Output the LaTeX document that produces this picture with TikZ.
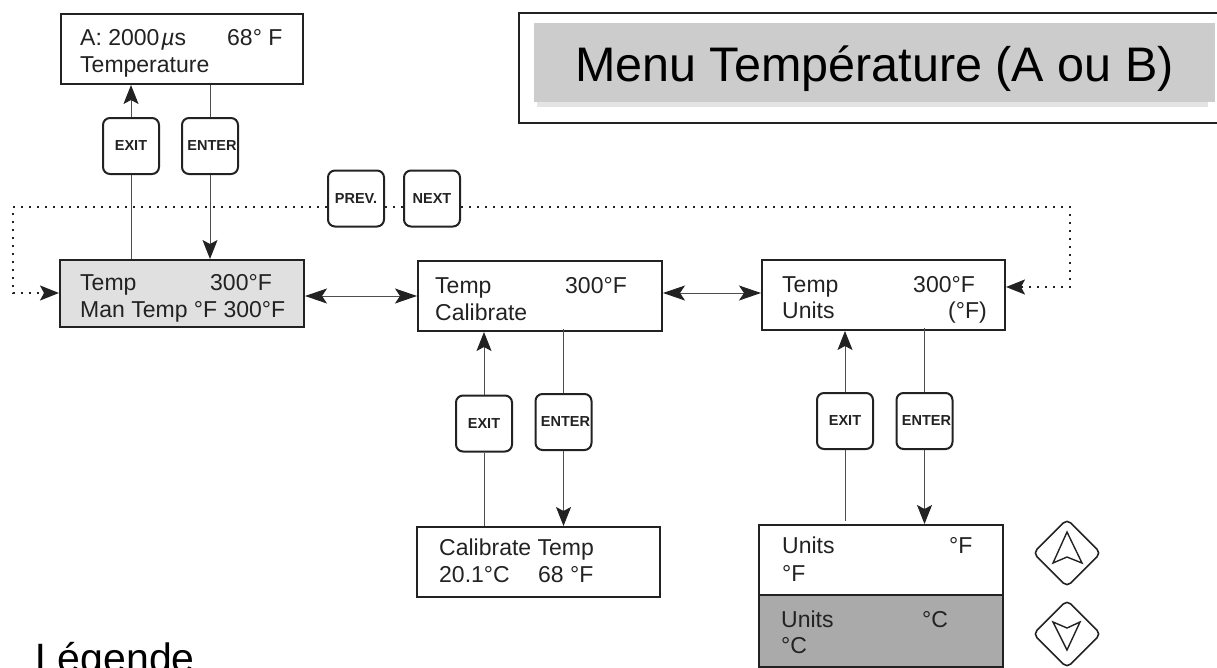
\documentclass[tikz,border=0pt]{standalone}
\usepackage{fontspec}
\setmainfont{Liberation Sans}
\usetikzlibrary{arrows.meta,shapes.geometric}
\definecolor{ink}{HTML}{222222}
\definecolor{lgray}{HTML}{E0E0E0}
\definecolor{mgray}{HTML}{AAAAAA}
\definecolor{tgray}{HTML}{CCCCCC}
\definecolor{sgray}{HTML}{E4E4E4}
\tikzset{
  box/.style={draw=ink, line width=2pt, anchor=north west, inner sep=0pt},
  txt/.style={anchor=base west, inner sep=0pt, font=\fontsize{23}{27}\selectfont, text=ink},
  key/.style={draw=ink, line width=2pt, rounded corners=7pt, minimum width=56pt, minimum height=56pt, inner sep=0pt, fill=white, font=\bfseries\fontsize{14.5}{16}\selectfont, text=ink},
  ln/.style={draw=ink!80, line width=1pt},
  arr/.style={ln, -{Stealth[length=19pt,width=15pt,inset=4pt,color=ink]}},
  dbl/.style={ln, {Stealth[length=22pt,width=15pt,inset=5pt,color=ink]}-{Stealth[length=22pt,width=15pt,inset=5pt,color=ink]}},
  dotl/.style={draw=ink, line width=1.8pt, dash pattern=on 1.8pt off 6.2pt},
  dotarr/.style={dotl, -{Stealth[length=19pt,width=15pt,inset=4pt,color=ink]}},
  dia/.style={diamond, draw=ink, line width=1.6pt, rounded corners=5pt, minimum width=68pt, minimum height=68pt, inner sep=0pt},
  inner/.style={draw=ink, line width=1.4pt, line join=miter}
}
\begin{document}
\begin{tikzpicture}[x=1pt,y=-1pt]
\useasboundingbox (0,0) rectangle (1217,667);
% title
\node[draw=ink, line width=1.6pt, anchor=north west, minimum width=720pt, minimum height=110pt, inner sep=0pt] (frame) at (518,12) {};
\fill[sgray] (537,102) rectangle (1208,107);
\node[fill=tgray, anchor=north west, minimum width=681pt, minimum height=79pt, inner sep=0pt] (tbar) at (534,23) {};
\node[anchor=base west, inner sep=0pt, font=\fontsize{48.5}{52}\selectfont] (title) at (575,81) {Menu Température (A ou B)};
% boxes
\node[box, minimum width=242pt, minimum height=70pt] (top) at (60,13) {};
\node[box, fill=lgray, minimum width=244pt, minimum height=67pt] (mt) at (59,259) {};
\node[box, minimum width=244pt, minimum height=70pt] (cal) at (417,260) {};
\node[box, minimum width=243pt, minimum height=70pt] (units) at (761,259) {};
\node[box, minimum width=243pt, minimum height=70pt] (ctemp) at (416,526) {};
\node[box, minimum width=244pt, minimum height=70pt] (uf) at (758,524) {};
\node[box, fill=mgray, minimum width=244pt, minimum height=72pt] (uc) at (758,594) {};
% texts
\node[txt] (t1a) at (80,45) {A: 2000\kern2pt{\itshape µ}s};
\node[txt] (t1b) at (227,45) {68° F};
\node[txt] (t1c) at (80,72) {Temperature};
\node[txt] (t2a) at (80,290) {Temp};
\node[txt] (t2b) at (210,290) {300°F};
\node[txt] (t2c) at (80,317) {Man Temp °F 300°F};
\node[txt] (t3a) at (435,293) {Temp};
\node[txt] (t3b) at (565,293) {300°F};
\node[txt] (t3c) at (435,320) {Calibrate};
\node[txt] (t4a) at (782,292) {Temp};
\node[txt] (t4b) at (913,292) {300°F};
\node[txt] (t4c) at (782,318) {Units};
\node[txt] (t4d) at (948,318) {(°F)};
\node[txt] (t5a) at (439,555) {Calibrate Temp};
\node[txt] (t5b) at (439,582) {20.1°C};
\node[txt] (t5c) at (538,582) {68 °F};
\node[txt] (t6a) at (782,553) {Units};
\node[txt] (t6b) at (949,553) {°F};
\node[txt] (t6c) at (782,581) {°F};
\node[txt] (t7a) at (781,627) {Units};
\node[txt] (t7b) at (922,627) {°C};
\node[txt] (t7c) at (781,653) {°C};
\node[anchor=base west, inner sep=0pt, font=\fontsize{41}{45}\selectfont] (leg) at (35,672) {Légende};
% keys
\node[key] (ex1) at (131,146) {EXIT};
\node[key] (en1) at (210,146) {\kern4pt ENTER};
\node[key] (prev) at (356,198.5) {PREV.};
\node[key] (next) at (432,198.5) {NEXT};
\node[key] (ex2) at (484,423.5) {EXIT};
\node[key] (en2) at (563.5,422) {\kern4pt ENTER};
\node[key] (ex3) at (845,421) {EXIT};
\node[key] (en3) at (924.5,421) {\kern4pt ENTER};
% connectors
\draw[ln] (mt.north -| ex1) -- (ex1.south);
\draw[arr] (ex1.north) -- (top.south -| ex1);
\draw[ln] (top.south -| en1) -- (en1.north);
\draw[arr] (en1.south) -- (mt.north -| en1);
\draw[ln] (ctemp.north -| ex2) -- (ex2.south);
\draw[arr] (ex2.north) -- (cal.south -| ex2);
\draw[ln] ([yshift=3pt]cal.south -| en2) -- (en2.north);
\draw[arr] (en2.south) -- (ctemp.north -| en2);
\draw[ln] ([yshift=3pt]uf.north -| ex3) -- (ex3.south);
\draw[arr] (ex3.north) -- (units.south -| ex3);
\draw[ln] ([yshift=3pt]units.south -| en3) -- (en3.north);
\draw[arr] (en3.south) -- (uf.north -| en3);
\draw[dbl] (mt.east |- cal.west) -- (cal.west);
\draw[dbl] ([yshift=3pt]cal.east) -- ([yshift=3pt]cal.east -| units.west);
% dotted loop
\coordinate (d1) at (13,207);
\coordinate (d2) at (13,293);
\coordinate (d3) at (1070,207);
\coordinate (d4) at (1070,287);
\draw[dotarr] (prev.west |- d1) -- (d1) -- (d2) -- (mt.west |- d2);
\draw[dotl] (prev.east |- d1) -- (next.west |- d1);
\draw[dotarr] (next.east |- d1) -- (d3) -- (d4) -- (units.east |- d4);
% up / down keys
\node[dia] (up) at (1067,553) {};
\node[dia] (down) at (1067,634) {};
\draw[inner] ([shift={(0,-21)}]up.center) -- ([shift={(-14,10)}]up.center) -- ([shift={(0,4)}]up.center) -- ([shift={(15,10)}]up.center) -- cycle;
\draw[inner] ([shift={(0,16)}]down.center) -- ([shift={(-14,-12)}]down.center) -- ([shift={(0,-6)}]down.center) -- ([shift={(13,-12)}]down.center) -- cycle;
\end{tikzpicture}
\end{document}
